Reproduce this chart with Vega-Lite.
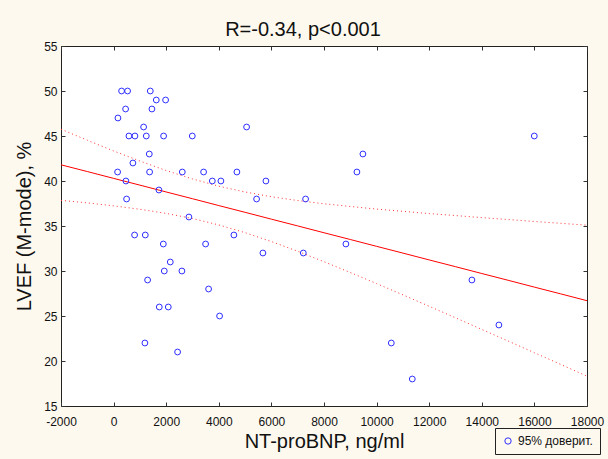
{
  "$schema": "https://vega.github.io/schema/vega-lite/v6.json",
  "autosize": "none",
  "width": 526,
  "height": 360,
  "padding": {"left": 61, "top": 46, "right": 21, "bottom": 53},
  "background": "#fdf9ef",
  "config": {
    "font": "Liberation Sans",
    "view": {"fill": "white", "stroke": "#222222", "strokeWidth": 1},
    "axis": {
      "labelFont": "Liberation Sans",
      "labelFontSize": 12,
      "labelColor": "#111111",
      "titleFont": "Liberation Sans",
      "titleFontSize": 20,
      "titleFontWeight": "normal",
      "titleColor": "#111111",
      "domainColor": "#222222",
      "tickColor": "#333333",
      "tickSize": -4,
      "gridColor": "#d4d4d4",
      "gridDash": [1, 2]
    }
  },
  "title": {
    "text": "R=-0.34, p<0.001",
    "font": "Liberation Sans",
    "fontSize": 20,
    "fontWeight": "normal",
    "color": "#111111",
    "dx": -21,
    "offset": 0
  },
  "datasets": {
    "pts": [
      {"nt": 304, "lvef": 50}, {"nt": 532, "lvef": 50}, {"nt": 1395, "lvef": 50}, {"nt": 1623, "lvef": 49},
      {"nt": 1977, "lvef": 49}, {"nt": 456, "lvef": 48}, {"nt": 1457, "lvef": 48}, {"nt": 165, "lvef": 47},
      {"nt": 1141, "lvef": 46}, {"nt": 583, "lvef": 45}, {"nt": 811, "lvef": 45}, {"nt": 1243, "lvef": 45},
      {"nt": 1901, "lvef": 45}, {"nt": 2992, "lvef": 45}, {"nt": 5057, "lvef": 46}, {"nt": 1357, "lvef": 43},
      {"nt": 734, "lvef": 42}, {"nt": 152, "lvef": 41}, {"nt": 1369, "lvef": 41}, {"nt": 2612, "lvef": 41},
      {"nt": 3422, "lvef": 41}, {"nt": 4688, "lvef": 41}, {"nt": 468, "lvef": 40}, {"nt": 3753, "lvef": 40},
      {"nt": 4080, "lvef": 40}, {"nt": 5791, "lvef": 40}, {"nt": 1723, "lvef": 39}, {"nt": 494, "lvef": 38},
      {"nt": 5437, "lvef": 38}, {"nt": 7300, "lvef": 38}, {"nt": 2863, "lvef": 36}, {"nt": 9479, "lvef": 43},
      {"nt": 9251, "lvef": 41}, {"nt": 15996, "lvef": 45}, {"nt": 798, "lvef": 34}, {"nt": 1205, "lvef": 34},
      {"nt": 4574, "lvef": 34}, {"nt": 1890, "lvef": 33}, {"nt": 3498, "lvef": 33}, {"nt": 5677, "lvef": 32},
      {"nt": 7213, "lvef": 32}, {"nt": 2155, "lvef": 31}, {"nt": 1927, "lvef": 30}, {"nt": 2597, "lvef": 30},
      {"nt": 1293, "lvef": 29}, {"nt": 3612, "lvef": 28}, {"nt": 1737, "lvef": 26}, {"nt": 2079, "lvef": 26},
      {"nt": 4030, "lvef": 25}, {"nt": 1190, "lvef": 22}, {"nt": 2433, "lvef": 21}, {"nt": 8833, "lvef": 33},
      {"nt": 13624, "lvef": 29}, {"nt": 14650, "lvef": 24}, {"nt": 10559, "lvef": 22}, {"nt": 11357, "lvef": 18}
    ],
    "fit": [
      {"x": -2000, "fit": 41.80, "lo": 37.85, "hi": 45.75},
      {"x": -1000, "fit": 41.05, "lo": 37.57, "hi": 44.53},
      {"x": 0, "fit": 40.29, "lo": 37.24, "hi": 43.34},
      {"x": 1000, "fit": 39.54, "lo": 36.86, "hi": 42.22},
      {"x": 2000, "fit": 38.78, "lo": 36.40, "hi": 41.16},
      {"x": 3000, "fit": 38.03, "lo": 35.83, "hi": 40.23},
      {"x": 4000, "fit": 37.27, "lo": 35.12, "hi": 39.42},
      {"x": 5000, "fit": 36.52, "lo": 34.26, "hi": 38.78},
      {"x": 6000, "fit": 35.76, "lo": 33.27, "hi": 38.25},
      {"x": 7000, "fit": 35.01, "lo": 32.19, "hi": 37.83},
      {"x": 8000, "fit": 34.25, "lo": 31.03, "hi": 37.47},
      {"x": 9000, "fit": 33.50, "lo": 29.83, "hi": 37.17},
      {"x": 10000, "fit": 32.74, "lo": 28.60, "hi": 36.88},
      {"x": 11000, "fit": 31.99, "lo": 27.35, "hi": 36.63},
      {"x": 12000, "fit": 31.23, "lo": 26.08, "hi": 36.38},
      {"x": 13000, "fit": 30.48, "lo": 24.80, "hi": 36.16},
      {"x": 14000, "fit": 29.72, "lo": 23.51, "hi": 35.93},
      {"x": 15000, "fit": 28.97, "lo": 22.22, "hi": 35.72},
      {"x": 16000, "fit": 28.21, "lo": 20.92, "hi": 35.50},
      {"x": 17000, "fit": 27.46, "lo": 19.62, "hi": 35.30},
      {"x": 18000, "fit": 26.70, "lo": 18.31, "hi": 35.09}
    ]
  },
  "layer": [
    {
      "data": {"name": "fit"},
      "mark": {"type": "line", "color": "#ff3030", "strokeWidth": 1, "strokeDash": [1, 3]},
      "encoding": {
        "x": {"field": "x", "type": "quantitative", "axis": null},
        "y": {"field": "lo", "type": "quantitative", "axis": null}
      }
    },
    {
      "data": {"name": "fit"},
      "mark": {"type": "line", "color": "#ff3030", "strokeWidth": 1, "strokeDash": [1, 3]},
      "encoding": {
        "x": {"field": "x", "type": "quantitative", "axis": null},
        "y": {"field": "hi", "type": "quantitative", "axis": null}
      }
    },
    {
      "data": {"name": "fit"},
      "mark": {"type": "line", "color": "#ff0000", "strokeWidth": 1},
      "encoding": {
        "x": {"field": "x", "type": "quantitative", "axis": {"orient": "top", "labels": false, "grid": false, "title": null, "domain": false, "values": [-2000, 0, 2000, 4000, 6000, 8000, 10000, 12000, 14000, 16000, 18000]}},
        "y": {"field": "fit", "type": "quantitative", "axis": {"orient": "right", "labels": false, "grid": false, "title": null, "domain": false, "values": [15, 20, 25, 30, 35, 40, 45, 50, 55]}}
      }
    },
    {
      "data": {"name": "pts"},
      "mark": {"type": "point", "filled": false, "size": 34, "strokeWidth": 1, "opacity": 1},
      "encoding": {
        "x": {
          "field": "nt", "type": "quantitative",
          "scale": {"domain": [-2000, 18000], "nice": false, "zero": false},
          "axis": {"title": "NT-proBNP, ng/ml", "values": [-2000, 0, 2000, 4000, 6000, 8000, 10000, 12000, 14000, 16000, 18000], "labelExpr": "'' + datum.value", "labelPadding": 14, "titlePadding": 4, "labelFlush": false, "domain": false}
        },
        "y": {
          "field": "lvef", "type": "quantitative",
          "scale": {"domain": [15, 55], "nice": false, "zero": false},
          "axis": {"title": "LVEF (M-mode), %", "values": [15, 20, 25, 30, 35, 40, 45, 50, 55], "labelPadding": 8, "titlePadding": 9, "labelFlush": false, "domain": false}
        },
        "color": {
          "datum": "95% доверит.",
          "type": "nominal",
          "scale": {"range": ["#2f2fff"]},
          "legend": {
            "title": null, "orient": "none", "legendX": 434, "legendY": 382,
            "strokeColor": "#222222", "padding": 7, "labelFontSize": 12, "labelFont": "Liberation Sans",
            "labelColor": "#111111", "symbolSize": 40, "symbolStrokeWidth": 1, "symbolType": "circle"
          }
        }
      }
    }
  ],
  "resolve": {"axis": {"x": "independent", "y": "independent"}}
}
